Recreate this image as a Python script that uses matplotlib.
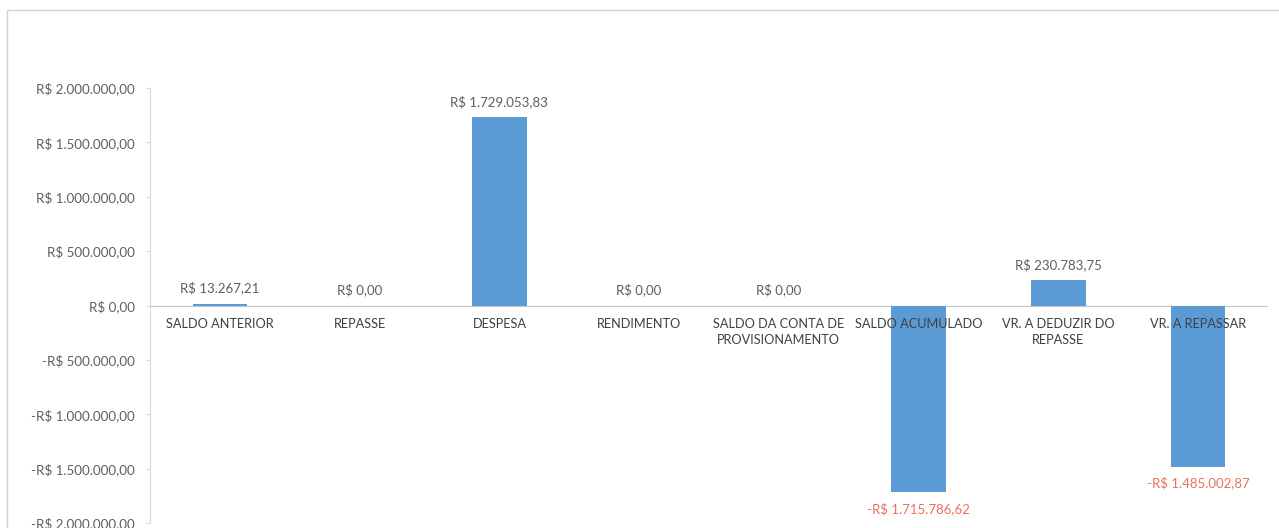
import matplotlib
matplotlib.use("Agg")
import matplotlib.pyplot as plt
from matplotlib.patches import Rectangle
from matplotlib.ticker import FuncFormatter

categories = [
    "SALDO ANTERIOR",
    "REPASSE",
    "DESPESA",
    "RENDIMENTO",
    "SALDO DA CONTA DE\nPROVISIONAMENTO",
    "SALDO ACUMULADO",
    "VR. A DEDUZIR DO\nREPASSE",
    "VR. A REPASSAR",
]
values = [13267.21, 0.0, 1729053.83, 0.0, 0.0, -1715786.62, 230783.75, -1485002.87]
y_ticks = [-2000000, -1500000, -1000000, -500000, 0, 500000, 1000000, 1500000, 2000000]

BAR = "#5B9BD5"
TEXT = "#5f5f5f"
CAT = "#404040"
NEG = "#EA7060"

plt.rcParams["font.family"] = ["Lato", "DejaVu Sans"]


def brl(v, decimals=2):
    s = f"{abs(v):,.{decimals}f}"
    s = s.replace(",", "X").replace(".", ",").replace("X", ".")
    return ("-" if v < 0 else "") + "R$ " + s


fig = plt.figure(figsize=(12.79, 5.28), dpi=100)
fig.patch.set_facecolor("white")

# outer chart frame
fig.add_artist(Rectangle((7 / 1279, -0.05), 1.2, 1 - 10 / 528 + 0.05,
                         transform=fig.transFigure, fill=False,
                         edgecolor="#d0d0d0", linewidth=1.0))

ax = fig.add_axes([150 / 1279, 1 - 523 / 528, (1268 - 150) / 1279, (523 - 88) / 528])
x = list(range(len(categories)))
ax.bar(x, values, width=0.39, color=BAR, zorder=2)
ax.set_xlim(-0.5, len(categories) - 0.5)
ax.set_ylim(-2000000, 2000000)
ax.set_yticks(y_ticks)
ax.yaxis.set_major_formatter(FuncFormatter(lambda v, p: brl(v)))
ax.tick_params(axis="y", labelsize=9.6, labelcolor=TEXT, color="#d9d9d9",
               length=3, pad=8)
ax.set_xticks([])

for side in ("top", "right", "bottom"):
    ax.spines[side].set_visible(False)
ax.spines["left"].set_color("#d9d9d9")
ax.axhline(0, color="#c8c8c8", linewidth=0.9, zorder=1)

for i, (cat, v) in enumerate(zip(categories, values)):
    ax.annotate(cat, (i, 0), xytext=(0, -9), textcoords="offset points",
                ha="center", va="top", fontsize=9.2, color=CAT,
                linespacing=1.35, zorder=3)
    if v < 0:
        ax.annotate(brl(v), (i, v), xytext=(0, -7), textcoords="offset points",
                    ha="center", va="top", fontsize=9.5, color=NEG, zorder=3)
    else:
        ax.annotate(brl(v), (i, v), xytext=(0, 7), textcoords="offset points",
                    ha="center", va="bottom", fontsize=9.5, color=TEXT, zorder=3)

fig.savefig("out.png", dpi=100, facecolor="white")
